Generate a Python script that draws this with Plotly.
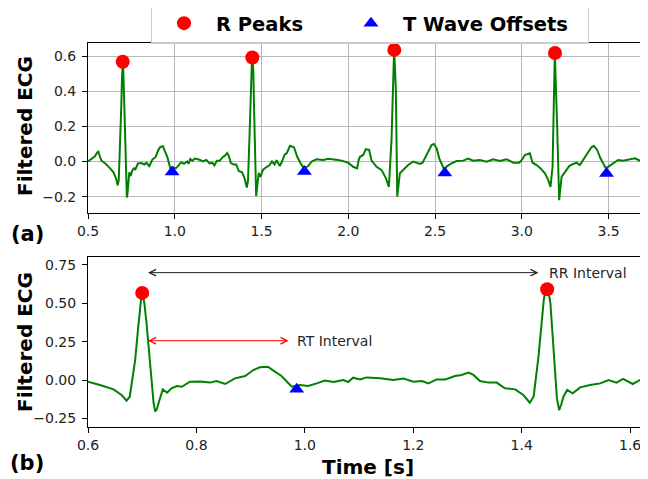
import plotly.graph_objects as go

# ---------------- data ----------------
time_s = [
    0.500, 0.512, 0.525, 0.540, 0.552, 0.560, 0.568, 0.577, 0.590,
    0.600, 0.622, 0.647, 0.662, 0.671, 0.677, 0.687, 0.692, 0.696, 0.699, 0.701,
    0.704, 0.708, 0.712, 0.7175, 0.721, 0.724, 0.727, 0.731, 0.738, 0.746, 0.754,
    0.764, 0.773, 0.788, 0.807, 0.825, 0.837, 0.853, 0.871, 0.890, 0.905, 0.917,
    0.932, 0.942, 0.957, 0.967, 0.976, 0.991, 1.006, 1.022, 1.037, 1.053, 1.071,
    1.080, 1.089, 1.102, 1.114, 1.139, 1.163, 1.182, 1.200, 1.216, 1.228, 1.243,
    1.259, 1.277, 1.289, 1.302, 1.311, 1.323, 1.339, 1.354, 1.369, 1.388, 1.403,
    1.415, 1.422, 1.431, 1.436, 1.441, 1.445, 1.449, 1.453, 1.457, 1.461, 1.465,
    1.469, 1.473, 1.477, 1.484, 1.494, 1.508, 1.526, 1.545, 1.560, 1.575, 1.587,
    1.605, 1.618, 1.633,
    1.645, 1.664, 1.687, 1.706, 1.725, 1.744, 1.769, 1.789, 1.817, 1.855, 1.885,
    1.913, 1.940, 1.961, 2.000, 2.028, 2.051, 2.060, 2.067, 2.086, 2.101, 2.120,
    2.134, 2.163, 2.192, 2.217, 2.234, 2.249, 2.264, 2.274, 2.282, 2.297, 2.316,
    2.326, 2.345, 2.374, 2.393, 2.412, 2.428, 2.447, 2.466, 2.480, 2.493, 2.509,
    2.524, 2.538, 2.552, 2.570, 2.595, 2.624, 2.662, 2.691, 2.720, 2.758, 2.797,
    2.835, 2.873, 2.912, 2.950, 2.985, 3.000, 3.017, 3.031, 3.046, 3.062, 3.085,
    3.108, 3.133, 3.152, 3.165, 3.177, 3.190, 3.203, 3.215, 3.229, 3.248, 3.273,
    3.296, 3.315, 3.334, 3.357, 3.382, 3.401, 3.415, 3.434, 3.453, 3.468, 3.484,
    3.503, 3.526, 3.555, 3.584, 3.622, 3.651, 3.680, 3.730,
]
ecg_filtered = [
    0.000, 0.010, 0.018, 0.030, 0.050, 0.056, 0.030, 0.005, -0.004,
    -0.011, -0.033, -0.061, -0.098, -0.135, -0.109, 0.130, 0.320, 0.480, 0.565, 0.565,
    0.500, 0.370, 0.200, -0.040, -0.150, -0.205, -0.190, -0.140, -0.061, -0.083, -0.054,
    -0.039, -0.044, -0.011, -0.009, -0.017, -0.007, -0.026, 0.011, 0.026, 0.065, 0.083,
    0.087, 0.061, 0.026, -0.011, -0.044, -0.033, -0.039, -0.022, -0.004, -0.013, 0.000,
    -0.013, 0.015, 0.004, 0.017, 0.011, 0.000, 0.009, -0.011, -0.007, -0.022, 0.004,
    0.004, 0.026, 0.033, 0.048, 0.033, -0.007, -0.017, -0.017, -0.054, -0.061, -0.098,
    -0.148, -0.109, 0.152, 0.360, 0.530, 0.590, 0.585, 0.500, 0.300, 0.050, -0.120,
    -0.196, -0.160, -0.109, -0.065, -0.087, -0.048, -0.033, -0.022, 0.000, -0.017, 0.007,
    -0.026, 0.000, 0.039,
    0.047, 0.089, 0.081, 0.027, -0.010, -0.039, -0.026, 0.000, 0.013, 0.009, 0.016,
    0.014, 0.008, 0.005, -0.007, -0.030, -0.039, 0.010, 0.027, 0.037, 0.070, 0.066,
    0.005, -0.030, -0.049, -0.096, -0.144, 0.123, 0.637, 0.409, -0.200, -0.067, -0.049,
    -0.039, -0.020, 0.000, -0.007, -0.014, -0.007, 0.031, 0.070, 0.094, 0.100, 0.075,
    0.018, -0.014, -0.045, -0.026, -0.010, 0.003, 0.005, 0.016, 0.005, 0.009, -0.001,
    0.013, 0.003, 0.013, -0.007, -0.007, 0.009, 0.037, 0.043, 0.047, -0.007, -0.020,
    -0.039, -0.067, -0.106, -0.144, -0.030, 0.618, 0.218, -0.220, -0.087, -0.058, -0.026,
    -0.014, -0.007, -0.020, 0.013, 0.047, 0.081, 0.089, 0.066, 0.018, -0.014, -0.039,
    -0.026, -0.010, 0.009, 0.005, 0.013, 0.018, 0.005, 0.005,
]
r_peak_t = [0.700, 1.447, 2.265, 3.191]
r_peak_v = [0.568, 0.592, 0.635, 0.617]
t_offset_t = [0.985, 1.747, 2.556, 3.488]
t_offset_v = [-0.060, -0.057, -0.066, -0.068]

top_xticks = [0.5, 1.0, 1.5, 2.0, 2.5, 3.0, 3.5]
top_yticks = [-0.2, 0.0, 0.2, 0.4, 0.6]
bot_xticks = [0.6, 0.8, 1.0, 1.2, 1.4, 1.6]
bot_yticks = [-0.25, 0.0, 0.25, 0.50, 0.75]

rr_arrow_t = [0.708, 1.431]
rr_arrow_v = 0.70
rr_label = "RR Interval"
rr_label_t = 1.446
rt_arrow_t = [0.708, 0.970]
rt_arrow_v = 0.256
rt_label = "RT Interval"
rt_label_t = 0.982

# ---------------- figure ----------------
# the page body has an 8px margin, so the figure is drawn 8px in from the
# window's top-left corner; layout positions below are given in window pixels
OFF = 8
FW, FH = 648 - OFF, 479 - OFF
def px(p):
    return (p - OFF) / FW
def py(p):
    return 1 - (p - OFF) / FH

GREEN = "#008000"
fig = go.Figure()

# top panel
fig.add_trace(go.Scatter(x=time_s, y=ecg_filtered, mode="lines",
                         line=dict(color=GREEN, width=2), showlegend=False,
                         xaxis="x", yaxis="y"))
fig.add_trace(go.Scatter(x=r_peak_t, y=r_peak_v, mode="markers", name="R Peaks",
                         marker=dict(color="red", size=14, symbol="circle"),
                         legendwidth=118, cliponaxis=False, xaxis="x", yaxis="y"))
fig.add_trace(go.Scatter(x=t_offset_t, y=t_offset_v, mode="markers", name="T Wave Offsets",
                         marker=dict(color="blue", size=13, symbol="triangle-up"),
                         legendwidth=180, xaxis="x", yaxis="y"))
# bottom panel
fig.add_trace(go.Scatter(x=time_s, y=ecg_filtered, mode="lines",
                         line=dict(color=GREEN, width=2), showlegend=False,
                         xaxis="x2", yaxis="y2"))
fig.add_trace(go.Scatter(x=r_peak_t, y=r_peak_v, mode="markers", showlegend=False,
                         marker=dict(color="red", size=14, symbol="circle"),
                         xaxis="x2", yaxis="y2"))
fig.add_trace(go.Scatter(x=t_offset_t, y=t_offset_v, mode="markers", showlegend=False,
                         marker=dict(color="blue", size=13, symbol="triangle-up"),
                         xaxis="x2", yaxis="y2"))

tickfont = dict(family="DejaVu Sans", size=14, color="#222222")
common = dict(showline=True, linecolor="black", linewidth=1, mirror=True,
              ticks="outside", ticklen=5, tickcolor="black", tickfont=tickfont,
              zeroline=False, automargin=False)

fig.update_layout(
    width=FW, height=FH,
    margin=dict(l=0, r=0, t=0, b=0, autoexpand=False),
    paper_bgcolor="white", plot_bgcolor="white",
    xaxis=dict(domain=[px(88), 1], range=[0.5, 3.727], tickvals=top_xticks,
               tickformat=".1f", showgrid=True, gridcolor="#b8b8b8", gridwidth=1,
               anchor="y", **common),
    yaxis=dict(domain=[py(213), py(42.7)], range=[-0.293, 0.676],
               tickvals=top_yticks, tickformat=".1f", showgrid=True,
               gridcolor="#b8b8b8", gridwidth=1, anchor="x",
               ticklabelstandoff=3, **common),
    xaxis2=dict(domain=[px(88), 1], range=[0.6, 1.633], tickvals=bot_xticks,
                tickformat=".1f", showgrid=False, anchor="y2", **common),
    yaxis2=dict(domain=[py(427.4), py(257.3)], range=[-0.309, 0.80],
                tickvals=bot_yticks, tickformat=".2f", showgrid=False,
                anchor="x2", ticklabelstandoff=3, **common),
    legend=dict(orientation="h", x=px(151), xanchor="left", y=py(3),
                yanchor="top", bgcolor="rgba(255,255,255,0.8)", bordercolor="#cccccc",
                borderwidth=1, itemwidth=54,
                font=dict(family="DejaVu Sans", size=19.5, color="black", weight="bold")),
)

boldfont = dict(family="DejaVu Sans", size=20, color="black", weight="bold")
labelfont = dict(family="DejaVu Sans", size=14, color="#262626")
def paper_text(text, xp, yp, font, angle=0):
    return dict(text=text, x=px(xp), y=py(yp), xref="paper", yref="paper",
                xanchor="center", yanchor="middle", textangle=angle,
                showarrow=False, font=font)

annotations = [
    paper_text("Filtered ECG", 25, 126, boldfont, -90),
    paper_text("Filtered ECG", 25, 342, boldfont, -90),
    paper_text("(a)", 27, 234, dict(boldfont, size=21)),
    paper_text("(b)", 27, 463, dict(boldfont, size=21)),
    paper_text("Time [s]", 368, 467, boldfont),
    # RR arrow
    dict(text="", x=rr_arrow_t[1], y=rr_arrow_v, ax=rr_arrow_t[0], ay=rr_arrow_v,
         xref="x2", yref="y2", axref="x2", ayref="y2", showarrow=True,
         arrowhead=5, startarrowhead=5, arrowside="end+start", arrowwidth=1,
         arrowsize=1.3, startarrowsize=1.3, arrowcolor="#222222"),
    dict(text=rr_label, x=rr_label_t, y=rr_arrow_v, xref="x2", yref="y2",
         xanchor="left", yanchor="middle", showarrow=False, font=labelfont),
    # RT arrow
    dict(text="", x=rt_arrow_t[1], y=rt_arrow_v, ax=rt_arrow_t[0], ay=rt_arrow_v,
         xref="x2", yref="y2", axref="x2", ayref="y2", showarrow=True,
         arrowhead=5, startarrowhead=5, arrowside="end+start", arrowwidth=1,
         arrowsize=1.3, startarrowsize=1.3, arrowcolor="red"),
    dict(text=rt_label, x=rt_label_t, y=rt_arrow_v, xref="x2", yref="y2",
         xanchor="left", yanchor="middle", showarrow=False, font=labelfont),
]
fig.update_layout(annotations=annotations)

fig.write_html("out.html")
